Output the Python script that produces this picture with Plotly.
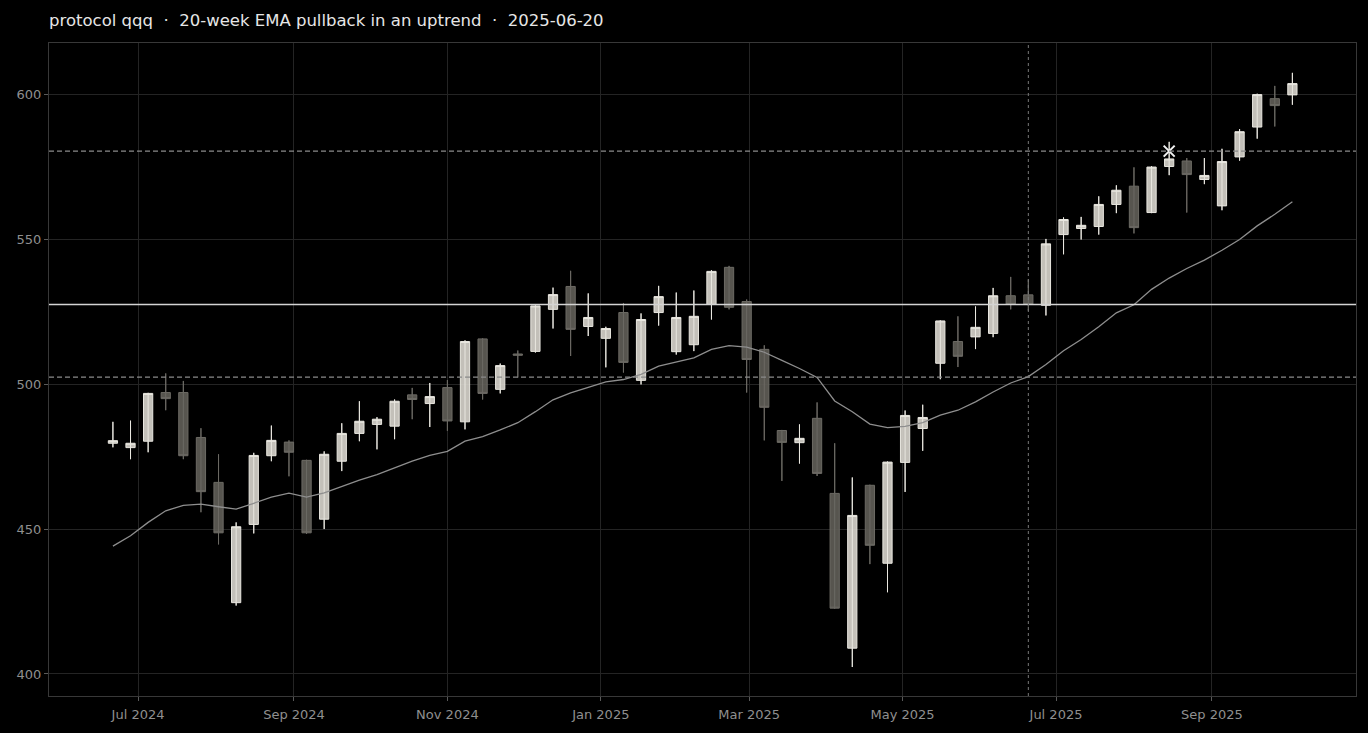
import pandas as pd
import plotly.graph_objects as go

# weekly bars, friday closes
weeks = pd.date_range("2024-06-21", periods=68, freq="7D")

opens = [479.6, 478.1, 480.3, 497.1, 497.1, 481.6, 466.1, 424.6, 451.6, 475.3,
         480.0, 473.7, 453.4, 473.4, 483.0, 486.1, 485.5, 496.3, 493.3, 498.8,
         487.0, 515.6, 498.2, 510.4, 511.3, 525.8, 533.7, 519.9, 515.8, 524.7,
         501.3, 524.7, 511.2, 513.6, 527.5, 540.3, 528.5, 512.0, 484.0, 479.8,
         488.2, 462.3, 408.9, 465.1, 438.2, 473.0, 484.7, 507.2, 514.7, 516.3,
         517.5, 530.5, 530.8, 527.2, 551.6, 553.7, 554.4, 562.0, 568.3, 559.2,
         575.1, 577.0, 570.6, 561.5, 578.4, 588.7, 598.5, 599.8]
highs = [487.0, 487.4, 497.0, 503.7, 501.1, 484.8, 475.8, 452.3, 476.3, 485.7,
         480.6, 473.9, 476.8, 486.5, 494.1, 488.6, 494.7, 498.7, 500.4, 501.4,
         515.1, 515.8, 507.1, 511.6, 527.2, 533.3, 539.1, 531.3, 519.8, 528.0,
         524.4, 533.9, 531.6, 532.3, 539.3, 540.8, 529.2, 513.4, 484.2, 486.1,
         493.7, 479.6, 467.8, 465.3, 473.3, 490.9, 492.9, 522.0, 523.4, 526.8,
         533.2, 537.0, 536.1, 550.1, 557.5, 557.7, 564.8, 568.6, 574.8, 575.2,
         583.6, 578.0, 578.0, 581.2, 588.0, 600.2, 602.9, 607.4]
lows = [478.2, 474.1, 476.5, 491.0, 474.1, 455.8, 444.7, 423.6, 448.5, 473.4,
        468.2, 448.3, 450.0, 470.0, 480.3, 477.5, 481.0, 487.9, 485.2, 483.9,
        484.4, 494.7, 496.8, 502.3, 510.9, 519.2, 509.7, 516.6, 505.8, 504.0,
        499.9, 520.2, 510.2, 511.4, 522.3, 525.8, 497.1, 480.6, 466.6, 472.6,
        468.3, 422.5, 402.4, 437.9, 428.2, 462.8, 477.0, 501.7, 505.9, 512.1,
        516.2, 525.8, 525.3, 523.7, 544.8, 549.9, 551.6, 559.0, 552.0, 559.0,
        572.1, 559.2, 569.0, 560.0, 577.1, 584.7, 588.9, 596.4]
closes = [480.5, 479.6, 496.8, 495.0, 475.3, 462.9, 448.7, 450.8, 475.4, 480.6,
          476.5, 448.7, 475.8, 483.0, 487.2, 487.9, 494.1, 494.7, 495.7, 487.3,
          514.7, 496.8, 506.4, 510.0, 527.0, 530.9, 518.9, 523.0, 519.2, 507.5,
          522.3, 530.2, 523.0, 523.4, 538.9, 526.5, 508.5, 492.0, 479.9, 481.3,
          469.2, 422.7, 454.7, 444.4, 473.1, 489.2, 488.5, 521.8, 509.6, 519.6,
          530.5, 527.5, 527.5, 548.4, 556.8, 554.8, 562.0, 566.9, 554.0, 574.9,
          577.7, 572.3, 572.0, 576.8, 587.1, 599.9, 596.1, 603.7]
ema20 = [444.1, 447.7, 452.3, 456.3, 458.2, 458.6, 457.7, 456.9, 458.9, 461.0,
         462.4, 461.0, 462.5, 464.8, 466.9, 468.8, 471.1, 473.4, 475.4, 476.8,
         480.3, 481.9, 484.2, 486.7, 490.5, 494.6, 497.0, 499.0, 500.8, 501.6,
         503.4, 506.2, 507.7, 509.1, 512.0, 513.3, 512.8, 511.0, 508.2, 505.4,
         502.3, 494.2, 490.5, 486.2, 485.0, 485.4, 486.7, 489.3, 491.0, 493.9,
         497.3, 500.4, 502.6, 506.8, 511.5, 515.4, 519.8, 524.6, 527.4, 532.7,
         536.6, 539.9, 542.8, 546.2, 549.9, 554.6, 558.6, 562.9]

signal_date = "2025-06-20"
entry = 527.5
stop = 502.4
target = 580.4
target_hit_date = "2025-08-15"

UP_LINE = "#e9e7e0"
UP_FILL = "rgba(222,219,211,0.88)"
DN_LINE = "#6c6a64"
DN_FILL = "rgba(96,94,88,0.9)"

fig = go.Figure()

# wicks underneath so they show through the bodies
for is_up, col in [(True, UP_LINE), (False, DN_LINE)]:
    wx, wy = [], []
    for d, o, h, l, c in zip(weeks, opens, highs, lows, closes):
        if (c >= o) == is_up:
            wx += [d, d, None]
            wy += [l, h, None]
    fig.add_trace(go.Scatter(x=wx, y=wy, mode="lines", line=dict(color=col, width=1),
                             hoverinfo="skip", showlegend=False))

fig.add_trace(go.Candlestick(
    x=weeks, open=opens, high=highs, low=lows, close=closes,
    increasing=dict(line=dict(color=UP_LINE, width=1), fillcolor=UP_FILL),
    decreasing=dict(line=dict(color=DN_LINE, width=1), fillcolor=DN_FILL),
    whiskerwidth=0, showlegend=False, name="qqq"))

fig.add_trace(go.Scatter(x=weeks, y=ema20, mode="lines",
                         line=dict(color="#8e8e8e", width=1.3),
                         showlegend=False, name="EMA 20"))

fig.add_hline(y=entry, line=dict(color="#d4d4d4", width=1.5))
fig.add_hline(y=stop, line=dict(color="#8a8a8a", width=1.2, dash="5px,3px"))
fig.add_hline(y=target, line=dict(color="#8a8a8a", width=1.2, dash="5px,3px"))
fig.add_vline(x=signal_date, line=dict(color="#777777", width=1, dash="dot"))

fig.add_trace(go.Scatter(x=[target_hit_date], y=[target], mode="markers",
                         marker=dict(symbol="x-thin", size=11,
                                     line=dict(color="#f2f2f2", width=2)),
                         showlegend=False, name="target"))

axis_common = dict(
    showgrid=True, gridcolor="#242424", gridwidth=1,
    showline=True, linecolor="#383838", linewidth=1, mirror=True,
    ticks="outside", ticklen=4, tickcolor="#5a5a5a",
    tickfont=dict(family="DejaVu Sans", size=13, color="#8f8f8f"),
    zeroline=False,
)

sep = "  ·  "
fig.update_layout(
    width=1368, height=733,
    paper_bgcolor="#000000", plot_bgcolor="#000000",
    margin=dict(l=49, r=12, t=43, b=37),
    title=dict(text=f"protocol qqq{sep}20-week EMA pullback in an uptrend{sep}2025-06-20",
               x=0, xref="paper", xanchor="left",
               y=1 - 20 / 733, yref="container", yanchor="middle",
               font=dict(family="DejaVu Sans", size=16.5, color="#e6e6e6")),
    xaxis=dict(axis_common, range=["2024-05-26 14:00", "2025-10-28 07:00"],
               tick0="2024-07-01", dtick="M2", tickformat="%b %Y",
               ticklabelstandoff=2, rangeslider=dict(visible=False)),
    yaxis=dict(axis_common, range=[392.4, 617.7], tickvals=[400, 450, 500, 550, 600]),
    boxgap=0.25, boxgroupgap=0.3,
    showlegend=False,
)

fig.write_html("out.html", config={"displayModeBar": False},
               post_script="document.body.style.margin='0';document.body.style.background='#000';")
